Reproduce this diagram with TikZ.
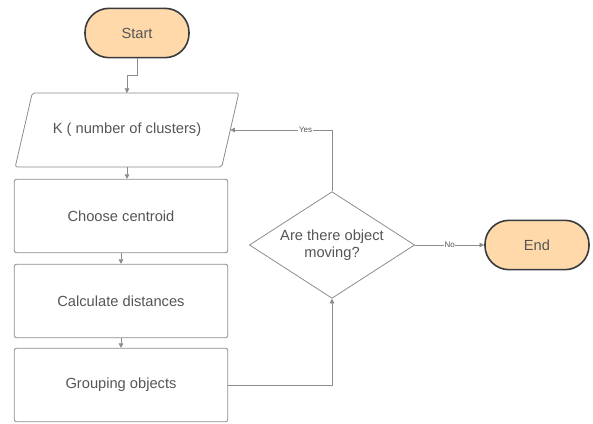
\documentclass[tikz,border=0pt]{standalone}
\usepackage{fontspec}
\setmainfont{Liberation Sans}
\usetikzlibrary{arrows.meta,shapes.geometric,calc}

\definecolor{termfill}{RGB}{255,217,170}
\definecolor{termline}{RGB}{55,58,62}
\definecolor{boxline}{RGB}{140,140,140}
\definecolor{txtgray}{RGB}{85,85,85}

\tikzset{
  term/.style={draw=termline,line width=1.2pt,fill=termfill,rounded corners=18pt,
    minimum width=78pt,minimum height=37pt,text=txtgray,font=\fontsize{11}{13}\selectfont},
  procbox/.style={draw=boxline,line width=0.6pt,rounded corners=1.5pt,
    minimum width=160pt,minimum height=55pt,text=txtgray,font=\fontsize{11}{13}\selectfont},
  iobox/.style={minimum width=154.5pt,minimum height=55pt,text=txtgray,
    font=\fontsize{11}{13}\selectfont},
  decide/.style={draw=boxline,line width=0.6pt,diamond,aspect=1.55,inner sep=0pt,
    minimum width=124pt,minimum height=80pt,align=center,text=txtgray,
    font=\fontsize{11}{13}\selectfont},
  flow/.style={draw=boxline,line width=0.6pt,-{Triangle[length=3.5pt,width=3.5pt]}},
  tag/.style={fill=white,inner sep=0.5pt,text=txtgray,font=\fontsize{6}{7}\selectfont}
}

\begin{document}
\begin{tikzpicture}[x=0.75pt,y=-0.75pt]
\useasboundingbox (0,0) rectangle (593,424);
\node[term] (start) at (137,33) {Start};
\node[iobox] (K) at (127,130) {K ( number of clusters)};
\draw[boxline,line width=0.6pt,rounded corners=1.5pt]
  ($(K.north west)+(8.5,0)$) -- ($(K.north east)+(8.5,0)$)
  -- ($(K.south east)+(-8.5,0)$) -- ($(K.south west)+(-8.5,0)$) -- cycle;
\node[procbox] (choose) at (121,216) {Choose centroid};
\node[procbox] (calc) at (121,301) {Calculate distances};
\node[procbox] (group) at (121,385) {Grouping objects};
\node[decide] (moving) at (332,245) {Are there object\\moving?};
\node[term] (end) at (537,245) {End};
% connectors
\draw[flow] (start.south) -- ++(0,17) -| (K.north);
\draw[flow] (K.south) -- (K.south |- choose.north);
\draw[flow] (choose.south) -- (calc.north);
\draw[flow] (calc.south) -- (group.north);
\draw[flow] (group.east) -| (moving.south);
\draw[flow] (moving.north) |- node[tag,pos=0.63]{Yes} (K.east);
\draw[flow] (moving.east) -- node[tag,pos=0.5]{No} (end.west);
\end{tikzpicture}
\end{document}
